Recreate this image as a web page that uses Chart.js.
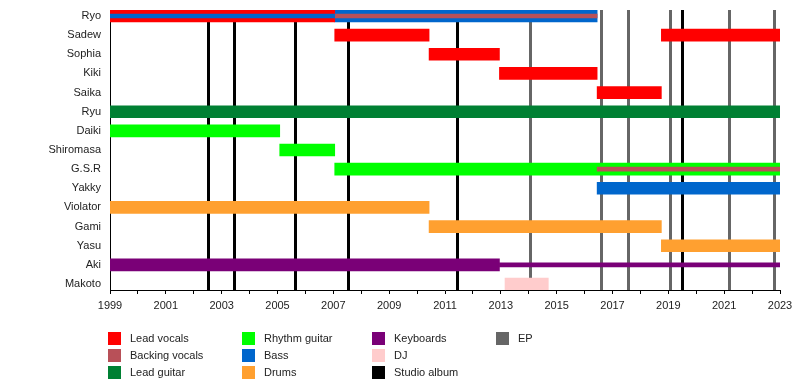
<!DOCTYPE html>
<html>
<head>
<meta charset="utf-8">
<script src="https://cdn.jsdelivr.net/npm/chart.js@4"></script>
<style>
  body { margin: 0; background: #fff; }
  #wrap { width: 800px; height: 380px; }
</style>
</head>
<body>
<div id="wrap"><canvas id="timeline"></canvas></div>
<script>
// band members, top to bottom
const members = ["Ryo", "Sadew", "Sophia", "Kiki", "Saika", "Ryu", "Daiki", "Shiromasa",
  "G.S.R", "Yakky", "Violator", "Gami", "Yasu", "Aki", "Makoto"];

// [member, from, to]
const leadVocals = [["Ryo", 1999, 2007.05], ["Sadew", 2007.05, 2010.43], ["Sadew", 2018.75, 2023],
  ["Sophia", 2010.43, 2012.95], ["Kiki", 2012.95, 2016.45], ["Saika", 2016.45, 2018.75]];
const backingVocals = [["Ryo", 2007.05, 2016.45], ["G.S.R", 2016.45, 2023]];
const leadGuitar = [["Ryu", 1999, 2023]];
const rhythmGuitar = [["Daiki", 1999, 2005.08], ["Shiromasa", 2005.08, 2007.05], ["G.S.R", 2007.05, 2023]];
const bass = [["Ryo", 2007.05, 2016.45], ["Yakky", 2016.45, 2023]];
const bassSecondary = [["Ryo", 1999, 2007.05]];
const drums = [["Violator", 1999, 2010.43], ["Gami", 2010.43, 2018.75], ["Yasu", 2018.75, 2023]];
const keyboards = [["Aki", 1999, 2012.95]];
const keyboardsSecondary = [["Aki", 2012.95, 2023]];
const dj = [["Makoto", 2013.15, 2014.7]];

// release dates
const studioAlbums = [2002.52, 2003.45, 2005.63, 2007.53, 2011.44, 2019.5];
const eps = [2014.05, 2016.6, 2017.57, 2019.07, 2021.16, 2022.78];

const colors = {
  "Lead vocals": "#ff0000",
  "Backing vocals": "#b85058",
  "Lead guitar": "#008033",
  "Rhythm guitar": "#00ff00",
  "Bass": "#0066cc",
  "Drums": "#ffa030",
  "Keyboards": "#7a0077",
  "DJ": "#ffcccc",
  "Studio album": "#000000",
  "EP": "#666666",
};

// legend laid out in columns like the original
const legendColumns = [
  ["Lead vocals", "Backing vocals", "Lead guitar"],
  ["Rhythm guitar", "Bass", "Drums"],
  ["Keyboards", "DJ", "Studio album"],
  ["EP"],
];

const FONT = "'Liberation Sans', Arial, sans-serif";

function toPoints(rows) {
  return rows.map(([who, from, to]) => ({ x: [from, to], y: members.indexOf(who) }));
}

function barSet(label, rows, thick, order) {
  return {
    label: label,
    data: toPoints(rows),
    backgroundColor: colors[label],
    barThickness: thick,
    grouped: false,
    order: order,
  };
}

// release lines go behind the bars
const releaseLines = {
  id: "releaseLines",
  beforeDatasetsDraw(chart) {
    const { ctx, chartArea, scales } = chart;
    ctx.save();
    ctx.lineWidth = 3;
    const draw = (years, color) => {
      ctx.strokeStyle = color;
      years.forEach((yr) => {
        const px = Math.round(scales.x.getPixelForValue(yr)) + 0.5;
        ctx.beginPath();
        ctx.moveTo(px, chartArea.top);
        ctx.lineTo(px, chartArea.bottom);
        ctx.stroke();
      });
    };
    draw(eps, colors["EP"]);
    draw(studioAlbums, colors["Studio album"]);
    ctx.restore();
  },
};

const columnLegend = {
  id: "columnLegend",
  afterDraw(chart) {
    const { ctx } = chart;
    const colX = [108, 242, 372, 496];
    ctx.save();
    ctx.font = "11px " + FONT;
    ctx.textBaseline = "middle";
    ctx.textAlign = "left";
    legendColumns.forEach((col, c) => {
      col.forEach((name, r) => {
        const top = 332 + r * 17;
        ctx.fillStyle = colors[name];
        ctx.fillRect(colX[c], top, 13, 13);
        ctx.fillStyle = "#222";
        ctx.fillText(name, colX[c] + 22, top + 7);
      });
    });
    ctx.restore();
  },
};

new Chart(document.getElementById("timeline"), {
  type: "bar",
  data: {
    datasets: [
      barSet("Lead vocals", leadVocals, 12, 5),
      barSet("Bass", bass, 12, 5),
      barSet("Lead guitar", leadGuitar, 12, 5),
      barSet("Rhythm guitar", rhythmGuitar, 12, 5),
      barSet("Drums", drums, 12, 5),
      barSet("Keyboards", keyboards, 12, 5),
      barSet("DJ", dj, 12, 5),
      barSet("Bass", bassSecondary, 4, 1),
      barSet("Backing vocals", backingVocals, 4, 1),
      barSet("Keyboards", keyboardsSecondary, 4, 1),
    ],
  },
  options: {
    indexAxis: "y",
    responsive: true,
    maintainAspectRatio: false,
    animation: false,
    layout: { padding: { top: 10, right: 20, bottom: 0, left: 0 } },
    plugins: {
      legend: { display: false },
      tooltip: { enabled: false },
    },
    scales: {
      x: {
        type: "linear",
        min: 1999,
        max: 2023,
        afterFit: (scale) => { scale.height = 90; },
        grid: { drawOnChartArea: false, tickLength: 4, color: "#000" },
        border: { color: "#000", width: 1 },
        ticks: {
          stepSize: 1,
          autoSkip: false,
          maxRotation: 0,
          padding: 5,
          color: "#222",
          font: { family: FONT, size: 11 },
          callback: (val) => (val % 2 === 1 ? String(val) : ""),
        },
      },
      y: {
        type: "linear",
        reverse: true,
        offset: false,
        bounds: "data",
        min: -0.313,
        max: 14.313,
        afterFit: (scale) => {
          scale.width = 110;
          scale.paddingTop = 0;
          scale.paddingBottom = 0;
        },
        afterBuildTicks: (scale) => { scale.ticks = members.map((m, i) => ({ value: i })); },
        grid: { display: false, drawTicks: false },
        border: { color: "#000", width: 1 },
        ticks: {
          padding: 9,
          color: "#222",
          font: { family: FONT, size: 11 },
          callback: (val) => members[val] || "",
        },
      },
    },
  },
  plugins: [releaseLines, columnLegend],
});
</script>
</body>
</html>
